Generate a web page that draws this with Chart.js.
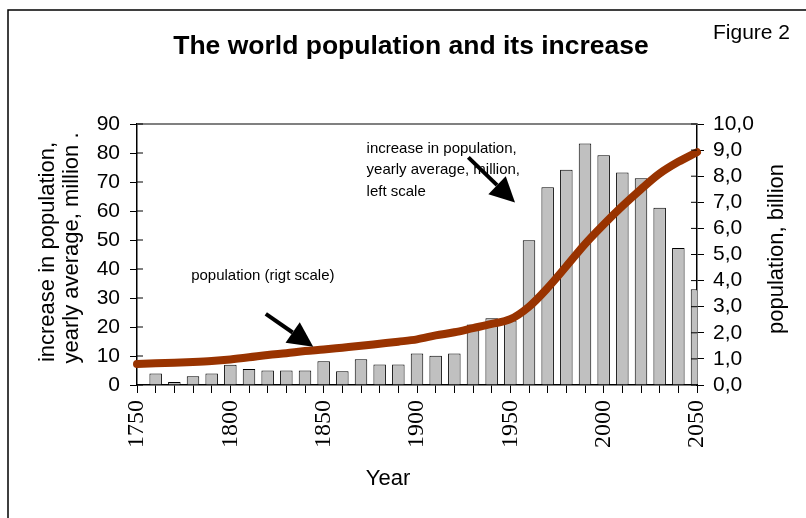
<!DOCTYPE html>
<html lang="en">
<head>
<meta charset="UTF-8">
<title>World population</title>
<script src="https://cdn.jsdelivr.net/npm/chart.js"></script>
<style>
    body { margin: 0; background: #fff; }
    .wrap { width: 806px; height: 518px; }
</style>
</head>
<body>
<div class="wrap"><canvas id="popChart"></canvas></div>
<script>
    // bars: yearly average increase, million (left scale)
    const barYears = [1760, 1770, 1780, 1790, 1800, 1810, 1820, 1830, 1840, 1850,
                      1860, 1870, 1880, 1890, 1900, 1910, 1920, 1930, 1940, 1950,
                      1960, 1970, 1980, 1990, 2000, 2010, 2020, 2030, 2040, 2050];
    const increase = [4, 1, 3, 4, 7, 5.5, 5, 5, 5, 8.2,
                      4.7, 8.9, 7.1, 7.1, 10.9, 10.1, 10.9, 20.9, 23, 22.2,
                      49.9, 68.2, 74.2, 83.3, 79.2, 73.3, 71.3, 61.1, 47.2, 33];

    // line: population, billion (right scale)
    const lineYears = [1750, 1760, 1770, 1780, 1790, 1800, 1810, 1820, 1830, 1840,
                       1850, 1860, 1870, 1880, 1890, 1900, 1910, 1920, 1930, 1940,
                       1950, 1960, 1970, 1980, 1990, 2000, 2010, 2020, 2030, 2040, 2050];
    const population = [0.80, 0.83, 0.85, 0.88, 0.92, 0.98, 1.06, 1.15, 1.22, 1.30,
                        1.36, 1.43, 1.50, 1.58, 1.66, 1.75, 1.90, 2.02, 2.18, 2.34,
                        2.52, 3.00, 3.72, 4.55, 5.40, 6.15, 6.85, 7.50, 8.10, 8.55, 8.92];

    const xLabelYears = [1750, 1800, 1850, 1900, 1950, 2000, 2050];

    function arrow(ctx, x1, y1, x2, y2) {
        const ang = Math.atan2(y2 - y1, x2 - x1);
        const len = 25, half = 12.5;
        const bx = x2 - len * Math.cos(ang), by = y2 - len * Math.sin(ang);
        ctx.strokeStyle = '#000';
        ctx.lineWidth = 4;
        ctx.beginPath();
        ctx.moveTo(x1, y1);
        ctx.lineTo(bx, by);
        ctx.stroke();
        ctx.fillStyle = '#000';
        ctx.beginPath();
        ctx.moveTo(x2, y2);
        ctx.lineTo(bx + half * Math.sin(ang), by - half * Math.cos(ang));
        ctx.lineTo(bx - half * Math.sin(ang), by + half * Math.cos(ang));
        ctx.closePath();
        ctx.fill();
    }

    function vText(ctx, text, x, y) {
        ctx.save();
        ctx.translate(x, y);
        ctx.rotate(-Math.PI / 2);
        ctx.fillText(text, 0, 0);
        ctx.restore();
    }

    const decorations = {
        id: 'decorations',
        beforeDraw(chart) {
            const ctx = chart.ctx;
            ctx.save();
            ctx.strokeStyle = '#000';
            ctx.lineWidth = 1.5;
            ctx.beginPath();
            ctx.moveTo(8, chart.height);
            ctx.lineTo(8, 10);
            ctx.lineTo(chart.width, 10);
            ctx.stroke();
            ctx.restore();
        },
        afterDraw(chart) {
            const { ctx, chartArea: a, scales } = chart;
            const x = scales.x, y = scales.y;
            ctx.save();
            // top edge of plot area
            ctx.strokeStyle = '#808080';
            ctx.lineWidth = 2;
            ctx.beginPath();
            ctx.moveTo(a.left, a.top);
            ctx.lineTo(a.right, a.top);
            ctx.stroke();

            // ticks cross the axes: short inner part
            ctx.strokeStyle = '#000';
            ctx.lineWidth = 1;
            ctx.beginPath();
            scales.y.ticks.forEach(t => {
                const py = scales.y.getPixelForValue(t.value);
                ctx.moveTo(a.left, py); ctx.lineTo(a.left + 6, py);
            });
            scales.y2.ticks.forEach(t => {
                const py = scales.y2.getPixelForValue(t.value);
                ctx.moveTo(a.right, py); ctx.lineTo(a.right - 6, py);
            });
            ctx.stroke();

            ctx.fillStyle = '#000';
            ctx.textBaseline = 'alphabetic';
            ctx.textAlign = 'center';
            ctx.font = 'bold 26.5px "Liberation Sans", Arial, sans-serif';
            ctx.fillText('The world population and its increase', 411, 54);
            ctx.textAlign = 'left';
            ctx.font = '21px "Liberation Sans", Arial, sans-serif';
            ctx.fillText('Figure 2', 713, 39);

            // axis titles
            ctx.font = '22px "Liberation Sans", Arial, sans-serif';
            ctx.textAlign = 'center';
            ctx.textBaseline = 'middle';
            vText(ctx, 'increase in population,', 48, 252);
            vText(ctx, 'yearly average, million .', 72, 248);
            vText(ctx, 'population, billion', 777, 249);
            ctx.fillText('Year', 388, 479);

            // annotations
            ctx.font = '15px "Liberation Sans", Arial, sans-serif';
            ctx.textAlign = 'left';
            ctx.textBaseline = 'alphabetic';
            ctx.fillText('population (rigt scale)', x.getPixelForValue(1779), y.getPixelForValue(36.2));
            ctx.fillText('increase in population,', x.getPixelForValue(1873), y.getPixelForValue(80));
            ctx.fillText('yearly average, million,', x.getPixelForValue(1873), y.getPixelForValue(72.8));
            ctx.fillText('left scale', x.getPixelForValue(1873), y.getPixelForValue(65.2));

            arrow(ctx, x.getPixelForValue(1819), y.getPixelForValue(24.5),
                       x.getPixelForValue(1844.4), y.getPixelForValue(13.2));
            arrow(ctx, x.getPixelForValue(1927.5), y.getPixelForValue(78.5),
                       x.getPixelForValue(1952.5), y.getPixelForValue(62.9));
            ctx.restore();
        }
    };

    const tickFont = { family: '"Liberation Sans", Arial, sans-serif', size: 21 };

    new Chart(document.getElementById('popChart'), {
        data: {
            datasets: [
                {
                    type: 'line',
                    label: 'population (rigt scale)',
                    data: lineYears.map((yr, i) => ({ x: yr, y: population[i] })),
                    yAxisID: 'y2',
                    borderColor: '#993300',
                    borderWidth: 8,
                    borderCapStyle: 'round',
                    pointRadius: 0,
                    cubicInterpolationMode: 'monotone',
                    clip: false,
                    order: 0
                },
                {
                    type: 'bar',
                    label: 'increase in population',
                    data: barYears.map((yr, i) => ({ x: yr, y: increase[i] })),
                    yAxisID: 'y',
                    backgroundColor: '#c0c0c0',
                    borderColor: '#000',
                    borderWidth: 1,
                    categoryPercentage: 1,
                    barPercentage: 0.67,
                    order: 1
                }
            ]
        },
        options: {
            responsive: true,
            maintainAspectRatio: false,
            animation: false,
            layout: { padding: { top: 124, left: 0, right: 0, bottom: 0 } },
            plugins: { legend: { display: false }, tooltip: { enabled: false } },
            scales: {
                x: {
                    type: 'linear',
                    min: 1750,
                    max: 2050,
                    offset: false,
                    afterFit: s => { s.height = 133; },
                    border: { color: '#000', width: 1.5 },
                    grid: { offset: false, drawOnChartArea: false, color: '#000', tickLength: 8 },
                    ticks: {
                        stepSize: 10,
                        autoSkip: false,
                        maxRotation: 90,
                        minRotation: 90,
                        padding: 7,
                        color: '#000',
                        font: { family: '"Liberation Serif", "Times New Roman", serif', size: 24 },
                        callback: v => xLabelYears.includes(v) ? String(v) : ''
                    }
                },
                y: {
                    position: 'left',
                    min: 0,
                    max: 90,
                    afterFit: s => { s.width = 137; },
                    border: { color: '#000', width: 1.5 },
                    grid: { drawOnChartArea: false, color: '#000', tickLength: 7 },
                    ticks: { stepSize: 10, autoSkip: false, padding: 10, color: '#000', font: tickFont }
                },
                y2: {
                    position: 'right',
                    min: 0,
                    max: 10,
                    afterFit: s => { s.width = 109; },
                    border: { color: '#000', width: 1.5 },
                    grid: { drawOnChartArea: false, color: '#000', tickLength: 7 },
                    ticks: {
                        stepSize: 1,
                        autoSkip: false,
                        padding: 9,
                        color: '#000',
                        font: tickFont,
                        callback: v => v.toFixed(1).replace('.', ',')
                    }
                }
            }
        },
        plugins: [decorations]
    });
</script>
</body>
</html>
